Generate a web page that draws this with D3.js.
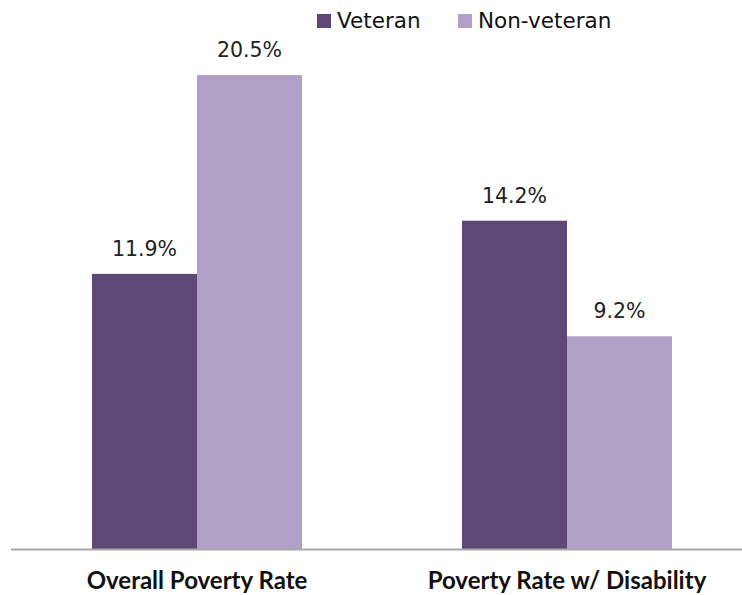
<!DOCTYPE html>
<html>
<head>
<meta charset="utf-8">
<script src="https://cdn.jsdelivr.net/npm/d3@7"></script>
<style>
  body { margin: 0; background: #ffffff; }
  svg { display: block; }
</style>
</head>
<body>
<div id="chart"></div>
<script>
// data
var categories = ["Overall Poverty Rate", "Poverty Rate w/ Disability"];
var seriesNames = ["Veteran", "Non-veteran"];
var veteran = [11.9, 14.2];
var nonVeteran = [20.5, 9.2];

var colors = ["#5e4878", "#b1a0c7"];

function plotBars() {
	var width = 742, height = 595;
	var baseline = 549;

	var svg = d3.select('#chart')
		.append('svg')
		.attr('width', width)
		.attr('height', height);

	var x0 = d3.scaleBand()
		.domain(categories)
		.range([12, 752])
		.paddingInner(0.4324)
		.paddingOuter(0.2162);

	var x1 = d3.scaleBand()
		.domain(seriesNames)
		.range([0, x0.bandwidth()])
		.padding(0);

	var y = d3.scaleLinear()
		.domain([0, 22])
		.range([baseline, baseline - 22 * 23.12]);

	var rows = categories.map(function (c, i) {
		return { cat: c, values: [veteran[i], nonVeteran[i]] };
	});

	var groups = svg.selectAll('.group')
		.data(rows)
		.enter().append('g')
		.attr('class', 'group')
		.attr('transform', function (d) { return 'translate(' + x0(d.cat) + ',0)'; });

	groups.selectAll('rect')
		.data(function (d) { return d.values.map(function (v, j) { return { name: seriesNames[j], v: v, j: j }; }); })
		.enter().append('rect')
		.attr('x', function (d) { return x1(d.name); })
		.attr('y', function (d) { return y(d.v); })
		.attr('width', x1.bandwidth())
		.attr('height', function (d) { return y(0) - y(d.v); })
		.attr('fill', function (d) { return colors[d.j]; });

	// value labels
	groups.selectAll('.val')
		.data(function (d) { return d.values.map(function (v, j) { return { name: seriesNames[j], v: v }; }); })
		.enter().append('text')
		.attr('class', 'val')
		.attr('x', function (d) { return x1(d.name) + x1.bandwidth() / 2; })
		.attr('y', function (d) { return y(d.v) - 18; })
		.attr('text-anchor', 'middle')
		.attr('font-family', 'DejaVu Sans, sans-serif')
		.attr('font-size', 20.5)
		.attr('fill', '#222')
		.text(function (d) { return d.v.toFixed(1) + '%'; });

	// axis line
	svg.append('line')
		.attr('x1', 11).attr('x2', width)
		.attr('y1', baseline + 0.5).attr('y2', baseline + 0.5)
		.attr('stroke', '#a6a6a6')
		.attr('stroke-width', 2);

	// category labels
	svg.selectAll('.cat')
		.data(categories)
		.enter().append('text')
		.attr('class', 'cat')
		.attr('x', function (d) { return x0(d) + x0.bandwidth() / 2; })
		.attr('y', 589)
		.attr('text-anchor', 'middle')
		.attr('font-family', 'Lato, sans-serif')
		.attr('font-weight', 'bold')
		.attr('font-size', 24)
		.attr('fill', '#111')
		.text(function (d) { return d; });

	// legend
	var legendX = [317, 458];
	var legend = svg.selectAll('.legend')
		.data(seriesNames)
		.enter().append('g')
		.attr('class', 'legend')
		.attr('transform', function (d, i) { return 'translate(' + legendX[i] + ',0)'; });

	legend.append('rect')
		.attr('x', 0).attr('y', 14)
		.attr('width', 14).attr('height', 14)
		.attr('fill', function (d, i) { return colors[i]; });

	legend.append('text')
		.attr('x', 20).attr('y', 28)
		.attr('font-family', 'DejaVu Sans, sans-serif')
		.attr('font-size', 21.5)
		.attr('fill', '#111')
		.text(function (d) { return d; });
}

plotBars();
</script>
</body>
</html>
